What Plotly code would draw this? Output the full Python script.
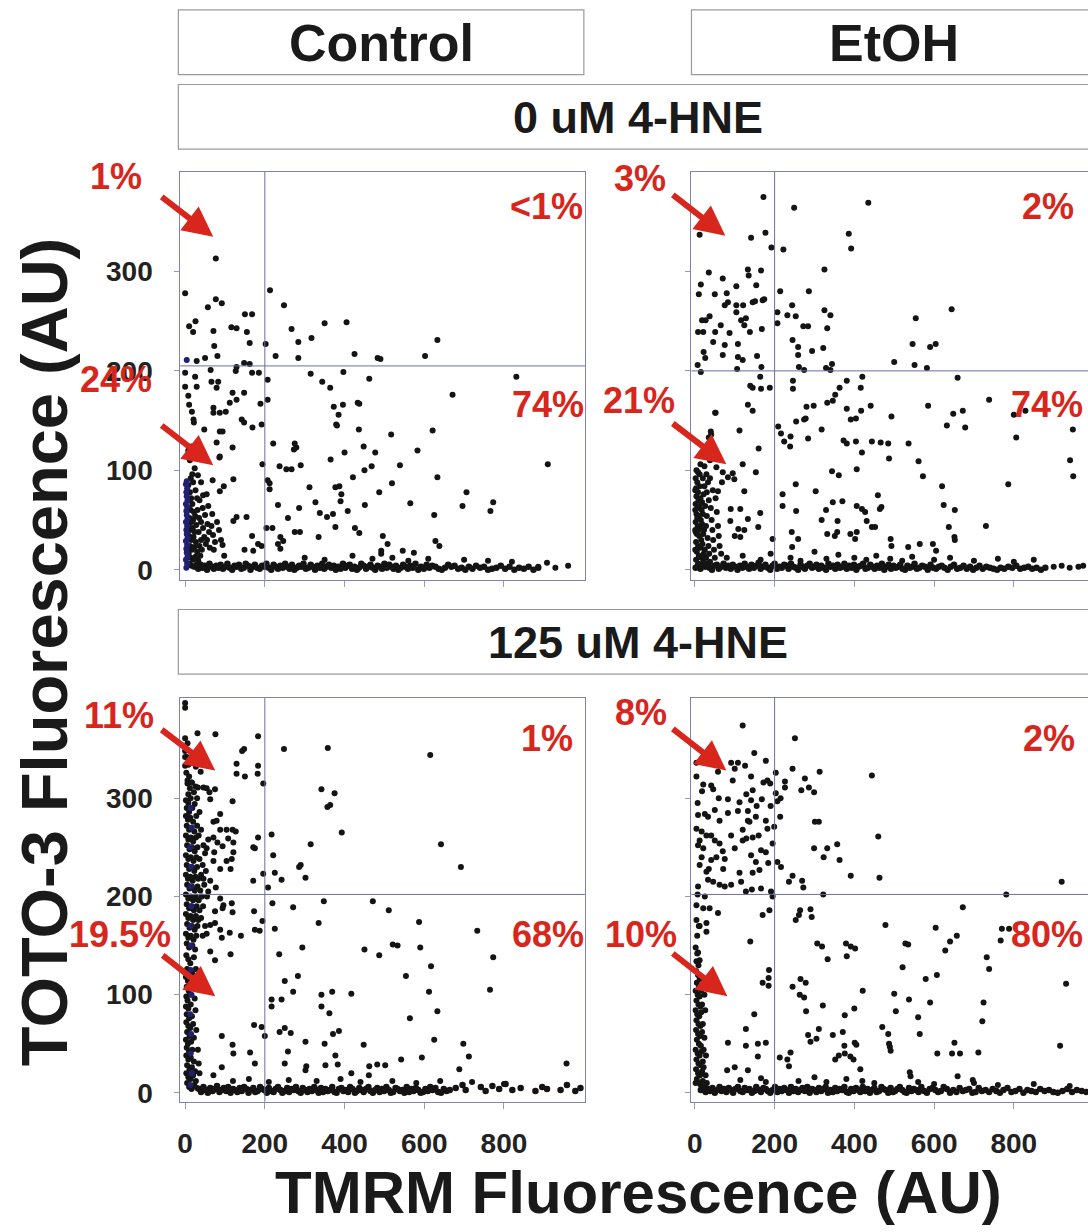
import plotly.graph_objects as go

W, H = 1088, 1232

# ---------------- data ----------------
COLUMNS = ["Control", "EtOH"]
ROWS = ["0 uM 4-HNE", "125 uM 4-HNE"]
X_TICKS = [0, 200, 400, 600, 800]
Y_TICKS = [0, 100, 200, 300]
QUAD_X = [200, 200, 200, 200]
QUAD_Y = [205, 200, 202, 202]
PCT_TEXT = [["1%", "<1%", "24%", "74%"],
            ["3%", "2%", "21%", "74%"],
            ["11%", "1%", "19.5%", "68%"],
            ["8%", "2%", "10%", "80%"]]

P1_PTS = [(77,313),(0,278),(213,281),(57,264),(77,272),(92,268),(248,266),(10,245),(26,250),(20,239),(71,240),(116,244),(129,243),(150,257),(168,257),(155,239),(73,225),(162,228),(267,242),(350,248),(405,249),(202,227),(284,229),(317,233),(633,231),(425,217),(483,213),(490,212),(602,215),(227,215),(284,213),(50,213),(29,210),(81,215),(129,204),(148,208),(162,207),(64,201),(127,200),(0,198),(25,194),(66,189),(83,189),(79,183),(168,198),(185,198),(207,191),(315,197),(397,199),(344,189),(364,183),(462,192),(831,194),(671,176),(0,184),(29,184),(8,175),(10,166),(17,159),(21,151),(22,148),(119,178),(129,171),(148,178),(112,168),(102,159),(87,158),(71,158),(71,163),(189,167),(207,171),(373,164),(396,166),(385,156),(379,146),(381,145),(433,168),(437,167),(142,151),(148,148),(169,143),(192,146),(48,141),(87,139),(94,139),(79,128),(119,123),(436,141),(517,136),(621,140),(221,127),(275,127),(279,123),(273,121),(400,118),(448,124),(477,118),(583,120),(86,113),(87,114),(194,106),(237,104),(254,101),(267,101),(290,105),(365,111),(450,100),(468,104),(539,105),(910,106),(69,90),(121,91),(207,90),(212,87),(212,81),(421,93),(633,93),(519,87),(312,83),(377,83),(387,84),(392,76),(390,69),(487,78),(706,78),(97,84),(87,79),(54,76),(233,65),(286,62),(327,68),(338,57),(356,53),(371,56),(408,59),(377,43),(451,65),(565,67),(696,64),(773,68),(766,59),(625,55),(258,52),(129,53),(154,53),(121,49),(204,42),(219,42),(192,24),(168,34),(239,33),(246,29),(233,26),(239,21),(275,38),(288,38),(335,33),(426,42),(437,37),(496,34),(508,26),(492,19),(492,16),(546,19),(574,17),(628,29),(638,24),(94,25),(98,14),(149,20),(171,19),(183,26),(908,7),(929,2),(961,4),(886,3),(300,12),(350,10),(420,14),(470,11),(520,12),(560,9),(610,11),(700,10),(760,9),(820,8)]
P1_CLUSTER = [(8,85),(12,78),(10,70),(15,72),(9,62),(14,60),(18,66),(22,58),(11,52),(16,48),(20,50),(25,54),(9,44),(13,40),(19,42),(24,38),(28,45),(10,34),(15,30),(21,33),(27,28),(12,24),(17,20),(23,23),(30,18),(9,16),(14,12),(20,10),(26,13),(33,9),(11,6),(16,4),(22,3),(28,5),(36,24),(40,30),(34,38),(42,20),(38,14),(45,42),(48,33),(52,26),(31,60),(35,52),(40,48),(44,62),(50,55),(56,46),(60,38),(55,30),(62,22),(58,64),(66,44),(70,35),(75,28),(68,56),(80,48),(85,40),(72,20),(90,30),(30,72),(26,80),(20,88),(36,70),(45,75),(14,92),(18,96),(24,102),(12,110),(28,115),(32,95),(40,88),(8,120),(16,124)]
P1_NAVY = [(3,2),(5,6),(2,10),(6,13),(4,17),(3,21),(5,25),(2,29),(6,32),(4,36),(3,40),(5,44),(2,48),(6,51),(4,55),(3,59),(5,63),(2,66),(6,70),(4,74),(3,78),(5,82),(2,86),(4,89),(4,211)]
P1_BAND_X = [28,33,39,44,50,55,61,67,72,78,84,89,95,101,106,112,118,124,129,135,141,147,152,158,164,170,175,181,187,193,199,204,210,216,222,228,233,239,245,251,257,262,268,274,280,286,291,297,303,309,315,320,326,332,338,344,349,355,361,367,373,378,384,390,396,402,407,413,419,425,431,436,442,448,454,460,465,471,477,483,489,494,500,506,512,518,523,529,535,541,547,553,559,565,571,578,585,592,599,606,613,620,628,636,644,652,660,668,676,685,694,703,712,721,730,740,750,760,770,781,792,803,814,826,838,850,862,874,886]
P1_BAND_Y = [3,1,5,2,4,0,6,3,1,4,2,5,1,3,6,2,0,4,3,5,1,2,6,4,0,3,5,2,1,4,3,6,2,0,5,3,1,4,2,6,3,1,5,0,2,4,3,6,1,2,5,3,0,4,2,6,1,3,5,2,4,0,3,1,6,2,4,5,1,3,0,2,6,4,1,3,5,2,0,4,3,1,6,2,5,3,1,4,0,2,5,3,1,4,2,6,0,3,1,5,2,4,3,1,0,2,5,3,4,1,2,0,3,1,4,2,3,0,1,2,4,1,3,0,2,1,3,0,2]

P2_PTS = [(172,375),(435,369),(249,364),(12,337),(141,334),(177,339),(192,324),(222,322),(386,338),(392,323),(35,299),(133,302),(135,296),(166,301),(325,302),(15,287),(10,277),(70,293),(50,277),(80,278),(104,285),(154,286),(214,280),(286,280),(75,266),(83,269),(104,266),(121,266),(145,269),(151,270),(170,271),(174,272),(207,259),(232,256),(244,266),(253,255),(325,261),(340,256),(644,262),(554,253),(18,251),(27,251),(37,255),(104,259),(116,251),(128,253),(124,246),(207,248),(272,245),(284,245),(332,243),(8,239),(21,239),(51,239),(65,246),(87,238),(138,239),(168,242),(46,229),(75,226),(108,227),(245,231),(259,224),(294,220),(322,223),(546,227),(590,224),(604,227),(22,219),(26,213),(7,206),(15,199),(70,216),(108,214),(120,211),(156,215),(167,204),(106,202),(259,216),(261,204),(274,201),(329,203),(344,207),(340,201),(500,209),(551,206),(582,203),(164,194),(139,185),(145,183),(166,182),(188,183),(246,190),(246,182),(381,190),(363,183),(352,176),(332,168),(346,170),(420,194),(416,183),(659,193),(738,171),(800,156),(829,160),(133,166),(145,160),(52,158),(280,164),(298,165),(254,149),(274,151),(278,152),(381,162),(391,151),(404,152),(417,160),(441,165),(493,154),(585,165),(648,157),(672,160),(678,143),(632,145),(806,133),(948,141),(941,110),(949,94),(786,86),(112,140),(40,139),(41,136),(35,133),(209,144),(216,137),(224,129),(239,124),(240,134),(284,132),(318,141),(373,130),(381,127),(404,129),(419,118),(444,129),(466,128),(485,127),(487,112),(536,127),(561,109),(572,94),(160,122),(51,158),(54,103),(70,98),(83,93),(95,97),(99,91),(120,106),(153,98),(344,99),(361,95),(406,101),(253,86),(303,79),(459,75),(620,84),(624,65),(652,60),(637,43),(651,33),(652,30),(730,44),(329,60),(346,68),(370,69),(358,49),(357,38),(351,34),(332,36),(318,50),(406,64),(419,61),(427,58),(431,49),(444,43),(452,43),(464,61),(468,63),(406,38),(254,59),(243,38),(259,31),(244,23),(220,76),(220,64),(164,57),(159,43),(195,31),(390,36),(402,31),(491,31),(493,24),(535,23),(564,26),(597,26),(605,19),(133,51),(124,40),(109,41),(114,33),(124,79),(114,61),(90,61),(89,49),(100,34),(68,88),(58,79),(80,12),(120,14),(165,10),(190,16),(240,12),(265,9),(300,18),(330,11),(360,15),(400,12),(430,10),(455,14),(490,11),(520,9),(545,13),(600,10),(640,12),(700,9),(760,11),(800,8),(850,10),(900,3),(920,4),(940,2),(962,3),(974,4)]
P2_CLUSTER = [(2,92),(6,88),(3,82),(8,78),(12,84),(4,74),(9,70),(14,72),(2,66),(7,62),(12,64),(17,60),(4,56),(10,54),(15,50),(20,56),(2,48),(7,44),(13,42),(18,46),(23,40),(5,36),(11,34),(16,30),(21,36),(3,28),(8,24),(14,22),(19,26),(25,20),(5,18),(10,14),(16,12),(22,16),(28,12),(3,10),(9,6),(15,4),(21,8),(27,5),(2,38),(6,52),(10,40),(18,68),(22,76),(26,64),(30,54),(28,44),(32,32),(34,24),(36,16),(38,8),(24,84),(30,78),(35,70),(40,62),(42,50),(44,40),(46,30),(48,20),(50,12),(33,88),(38,92),(45,80),(52,72),(55,58),(58,44),(60,34),(62,24),(66,16),(29,96),(12,96),(20,92),(8,98),(18,4),(30,4),(36,3),(1,20),(1,40),(1,60),(1,80),(4,100),(14,106),(24,104),(38,110),(43,116),(34,124),(30,118)]
P2_BAND_X = [2,8,14,20,26,31,37,43,49,55,60,66,72,78,84,90,95,101,107,113,119,125,130,136,142,148,154,160,165,171,177,183,189,195,200,206,212,218,224,230,235,241,247,253,259,265,270,276,282,288,294,300,305,311,317,323,329,335,340,346,352,358,364,370,375,381,387,393,399,405,410,416,422,428,434,440,445,451,457,463,469,475,480,486,492,498,504,510,515,521,527,533,539,545,551,557,563,570,577,584,591,598,605,612,619,626,634,642,650,658,666,674,682,690,698,706,714,722,731,740,749,758,767,776,786,796,806,816,826,836,846,857,868,879]
P2_BAND_Y = [2,5,1,4,3,6,2,0,4,5,1,3,6,2,4,1,5,3,0,4,2,6,3,1,5,2,4,7,1,3,5,2,0,4,6,1,3,2,5,4,1,6,3,2,0,5,3,1,4,6,2,3,5,1,4,2,0,6,3,4,1,5,2,3,6,1,4,2,5,0,3,4,6,1,2,5,3,1,4,2,6,0,3,5,1,4,2,3,5,1,0,4,2,3,6,1,2,4,3,0,5,2,1,3,4,2,0,3,5,1,2,4,1,3,0,2,4,1,3,2,1,0,2,1,3,2,4,1,2,3,1,2,0,2,1,3]

P3_PTS = [(0,397),(0,392),(31,366),(76,365),(0,361),(0,348),(0,342),(0,333),(183,363),(248,350),(358,351),(615,344),(143,348),(148,350),(129,335),(129,325),(150,322),(183,333),(182,325),(196,315),(27,332),(39,327),(6,315),(17,316),(8,304),(32,311),(46,311),(54,310),(61,306),(75,309),(63,299),(119,297),(88,284),(71,276),(79,277),(342,309),(375,305),(357,291),(364,293),(393,265),(642,253),(692,230),(315,253),(217,263),(183,260),(221,242),(225,224),(242,217),(290,232),(286,230),(302,219),(171,250),(175,249),(171,216),(196,223),(208,209),(88,268),(104,268),(119,268),(127,266),(58,258),(71,260),(81,255),(94,251),(108,259),(121,255),(121,245),(104,236),(117,238),(114,228),(71,236),(88,228),(73,245),(54,249),(46,218),(63,216),(58,205),(77,209),(88,198),(96,191),(117,193),(119,184),(94,188),(75,185),(63,171),(54,162),(88,166),(92,158),(112,163),(140,160),(75,173),(173,185),(175,166),(187,165),(194,175),(219,193),(225,167),(271,189),(348,195),(335,173),(471,195),(511,186),(587,174),(590,148),(733,165),(773,138),(450,146),(487,140),(521,151),(533,150),(294,148),(236,141),(63,144),(75,135),(114,141),(617,129),(554,119),(283,119),(250,114),(271,103),(342,100),(369,103),(417,101),(612,103),(765,105),(217,95),(217,88),(242,95),(342,88),(362,81),(633,83),(564,76),(173,69),(192,67),(200,58),(237,62),(250,66),(265,61),(371,60),(386,63),(302,52),(350,50),(448,49),(377,38),(625,54),(698,50),(712,37),(688,24),(594,36),(542,34),(258,42),(250,30),(304,27),(302,23),(352,28),(383,29),(417,20),(462,27),(482,29),(502,28),(461,18),(957,30),(92,58),(119,49),(121,40),(163,41),(175,30),(92,26),(71,18),(120,12),(160,14),(210,11),(260,13),(330,12),(390,14),(440,11),(520,12),(580,10),(640,12),(720,11),(800,9)]
P3_CLUSTER = [(2,298),(8,295),(14,300),(4,290),(10,286),(18,290),(24,294),(2,282),(7,278),(13,280),(20,276),(28,282),(4,272),(10,268),(16,270),(23,266),(30,272),(2,262),(8,258),(14,260),(20,256),(27,260),(34,262),(5,252),(11,248),(17,250),(24,246),(31,250),(2,242),(8,238),(14,240),(21,236),(28,240),(36,238),(4,232),(10,228),(17,230),(23,226),(30,230),(2,222),(7,218),(13,220),(19,216),(26,220),(33,218),(40,222),(5,212),(11,208),(17,210),(24,206),(31,210),(38,206),(2,202),(8,198),(14,200),(20,196),(27,200),(34,196),(42,200),(4,192),(10,188),(16,190),(22,186),(29,190),(36,186),(2,182),(8,178),(14,180),(20,176),(27,180),(33,176),(5,172),(11,168),(17,170),(24,166),(31,170),(2,162),(8,158),(14,160),(21,156),(28,160),(4,152),(10,148),(18,150),(25,146),(40,178),(45,190),(48,212),(44,232),(46,252),(40,268),(36,286),(30,300),(22,306),(12,310),(6,318),(3,326),(8,334),(4,342),(2,350),(6,356),(10,322),(16,316),(26,312),(50,244),(52,226),(55,200),(50,170),(44,160),(3,140),(8,136),(13,132),(5,126),(10,122),(2,118),(7,114),(15,112),(4,108),(9,104),(3,98),(12,100),(6,94),(2,88),(8,86),(14,90),(4,80),(10,76),(17,78),(3,72),(8,68),(13,66),(20,70),(5,62),(11,58),(2,54),(7,50),(15,52),(22,56),(4,46),(10,42),(18,44),(3,38),(8,34),(14,36),(22,32),(5,28),(11,24),(17,26),(25,22),(3,20),(8,16),(14,14),(20,18),(27,12),(5,10),(10,6),(16,4),(23,8),(30,5),(19,110),(24,96),(26,84),(28,64),(32,44),(34,30),(36,20),(18,122),(22,138),(27,126)]
P3_NAVY = [(14,290),(16,270),(13,250),(15,230),(14,210),(16,190),(13,170),(15,150),(14,125),(16,100),(13,80),(15,60),(14,40),(16,20),(13,8)]
P3_BAND_X = [35,40,46,52,57,63,69,74,80,86,91,97,103,108,114,120,125,131,137,142,148,154,159,165,171,176,182,188,193,199,205,210,216,222,227,233,239,244,250,256,261,267,273,278,284,290,295,301,307,312,318,324,329,335,341,346,352,358,363,369,375,380,386,392,397,403,409,414,420,426,431,437,443,448,454,460,465,471,477,482,488,494,499,505,511,516,522,528,533,539,545,550,556,562,567,573,579,585,591,597,603,609,615,621,628,635,642,649,656,664,679,696,704,742,754,771,788,804,821,842,879,896,908,942,958,979,992]
P3_BAND_Y = [4,1,6,3,0,5,2,4,7,1,3,5,2,6,0,4,3,1,5,2,6,4,0,3,5,1,2,6,4,3,0,5,2,1,4,6,3,0,2,5,1,4,3,6,2,0,5,3,1,4,2,6,3,0,5,1,4,2,3,6,1,0,4,5,2,3,1,6,4,0,2,5,3,1,4,6,2,0,3,5,1,4,2,6,3,0,1,5,4,2,3,0,6,1,4,2,5,3,0,1,4,2,6,3,5,1,0,4,2,3,5,8,3,6,2,7,4,9,3,5,2,6,4,3,8,2,5]

P4_PTS = [(120,374),(251,361),(149,346),(178,338),(4,336),(91,336),(108,336),(126,333),(4,322),(21,314),(41,313),(46,309),(18,307),(141,322),(172,316),(182,318),(189,315),(203,326),(226,317),(226,311),(276,320),(267,308),(286,311),(299,306),(313,327),(444,323),(83,299),(112,296),(129,304),(145,308),(141,298),(168,299),(203,305),(207,297),(7,295),(8,283),(25,284),(50,288),(33,281),(62,277),(83,285),(108,287),(133,287),(133,277),(137,276),(153,281),(178,277),(182,269),(199,271),(214,281),(301,276),(311,276),(460,261),(4,269),(17,266),(29,262),(12,257),(8,252),(21,249),(41,262),(50,257),(62,254),(54,240),(41,237),(71,228),(75,238),(91,262),(100,249),(120,257),(129,259),(145,260),(141,242),(153,235),(166,247),(178,245),(184,234),(195,254),(207,235),(216,230),(145,224),(162,227),(112,224),(116,215),(91,212),(75,210),(62,212),(46,215),(33,217),(29,225),(12,232),(17,240),(8,210),(7,202),(25,200),(128,205),(143,207),(166,208),(191,205),(195,200),(299,249),(323,240),(332,249),(357,253),(363,237),(391,221),(463,219),(236,215),(245,221),(269,216),(272,209),(322,202),(781,202),(920,215),(4,191),(21,188),(37,188),(58,183),(29,173),(12,170),(29,164),(170,181),(187,186),(139,154),(253,176),(261,181),(264,186),(290,187),(293,179),(672,189),(478,171),(604,168),(307,152),(319,149),(333,136),(379,152),(391,149),(402,147),(381,139),(528,152),(535,151),(628,145),(640,154),(657,160),(770,167),(788,167),(767,155),(732,138),(738,126),(521,128),(579,116),(607,120),(931,111),(8,143),(12,135),(170,112),(185,117),(185,109),(186,125),(245,108),(265,116),(278,112),(263,100),(274,97),(279,83),(321,89),(421,104),(400,86),(376,79),(500,101),(504,83),(537,95),(590,92),(560,77),(564,60),(724,92),(721,73),(916,48),(149,80),(128,65),(83,51),(128,48),(158,50),(178,51),(158,37),(100,26),(81,23),(133,23),(114,13),(166,15),(178,11),(213,36),(232,34),(240,41),(236,27),(284,59),(290,52),(305,55),(311,65),(346,59),(371,62),(375,48),(376,40),(401,51),(405,49),(470,67),(485,60),(489,47),(491,43),(487,50),(352,34),(361,38),(390,37),(398,34),(415,24),(608,40),(645,40),(651,51),(665,40),(711,41),(659,17),(697,13),(539,21),(541,17),(60,300),(95,318),(155,292),(120,268),(70,246),(35,228),(160,262),(190,292),(58,327),(100,330),(215,300),(245,330),(260,12),(300,16),(330,11),(380,14),(420,12),(450,10),(560,11),(600,9),(700,10),(760,8),(850,9),(940,7)]
P4_CLUSTER = [(2,148),(6,142),(4,134),(9,130),(3,124),(8,120),(12,116),(5,112),(10,108),(2,104),(7,100),(12,98),(4,94),(9,90),(14,88),(2,84),(6,80),(11,78),(16,82),(4,74),(9,70),(14,68),(3,64),(8,60),(13,58),(18,62),(5,54),(10,50),(15,48),(2,44),(7,40),(12,38),(17,42),(4,34),(9,30),(14,28),(20,32),(3,24),(8,20),(13,18),(18,22),(5,14),(10,10),(15,8),(20,12),(25,6),(2,10),(22,44),(24,56),(20,70),(18,90),(16,104),(22,26),(27,18),(30,10),(6,160),(10,170),(4,176),(28,38),(26,84),(24,100)]
P4_BAND_X = [15,21,27,33,38,44,50,56,62,67,73,79,85,91,96,102,108,114,120,125,131,137,143,149,154,160,166,172,178,183,189,195,201,207,212,218,224,230,236,241,247,253,259,265,270,276,282,288,294,299,305,311,317,323,328,334,340,346,352,357,363,369,375,381,386,392,398,404,410,415,421,427,433,439,444,450,456,462,468,473,479,485,491,497,502,508,514,520,526,531,537,543,549,555,561,568,575,582,589,596,603,610,617,624,632,640,648,656,664,672,680,688,696,704,712,720,729,738,747,756,765,774,784,794,804,814,824,834,844,855,866,877,888,899,910,922,934,946,958,970,982]
P4_BAND_Y = [3,6,1,4,2,5,0,3,6,2,4,1,5,3,0,4,6,2,1,5,3,4,0,2,6,3,1,5,4,2,0,3,6,1,4,2,5,3,0,6,2,4,1,3,5,2,6,0,4,3,1,5,2,4,6,0,3,1,5,2,4,3,6,1,0,4,2,5,3,1,6,2,4,0,3,5,1,2,6,4,3,0,5,1,2,4,6,3,1,0,5,2,4,3,1,6,2,0,4,5,3,1,2,6,4,0,3,1,5,2,3,4,0,1,5,2,3,1,4,2,0,3,5,1,2,4,0,3,2,1,4,2,3,1,0,2,4,1,3,2,1,0]

PANELS = [
    dict(pts=P1_PTS, cluster=P1_CLUSTER, navy=P1_NAVY, bx=P1_BAND_X, by=P1_BAND_Y),
    dict(pts=P2_PTS, cluster=P2_CLUSTER, navy=[], bx=P2_BAND_X, by=P2_BAND_Y),
    dict(pts=P3_PTS, cluster=P3_CLUSTER, navy=P3_NAVY, bx=P3_BAND_X, by=P3_BAND_Y),
    dict(pts=P4_PTS, cluster=P4_CLUSTER, navy=[], bx=P4_BAND_X, by=P4_BAND_Y),
]

# ---------------- layout constants ----------------
FONT = "Liberation Sans, Arial, sans-serif"
RED = "#d8261c"
DOT = "#141414"
NAVY = "#202070"
FRAME = "#8282b0"
QLINE = "#6e6ea2"
STRIP = "#9a9a9a"

def px(x):
    return x / W

def py(y):
    return 1 - y / H

# panel pixel boxes: (left, right, top, bottom) and axis ranges
BOX = [(177, 583, 173, 583), (690, 1088, 173, 583), (177, 583, 702, 1108), (690, 1088, 702, 1108)]
XR = [[-12, 1003], [-8.5, 986], [-12, 1003], [-8.5, 986]]
YR = [[-10, 400], [-10, 400], [-9, 402], [-9, 402]]

fig = go.Figure()

for i, p in enumerate(PANELS):
    xa = "x" if i == 0 else f"x{i+1}"
    ya = "y" if i == 0 else f"y{i+1}"
    band = list(zip(p["bx"], p["by"]))
    fig.add_trace(go.Scatter(
        x=[a for a, b in band], y=[b for a, b in band], mode="markers",
        marker=dict(size=6.5, color=DOT, line=dict(width=0)),
        xaxis=xa, yaxis=ya, showlegend=False, hoverinfo="skip"))
    allpts = list(p["pts"]) + list(p["cluster"])
    fig.add_trace(go.Scatter(
        x=[a for a, b in allpts], y=[b for a, b in allpts], mode="markers",
        marker=dict(size=6, color=DOT, line=dict(width=0)),
        xaxis=xa, yaxis=ya, showlegend=False, hoverinfo="skip"))
    if p["navy"]:
        fig.add_trace(go.Scatter(
            x=[a for a, b in p["navy"]], y=[b for a, b in p["navy"]], mode="markers",
            marker=dict(size=6, color=NAVY, line=dict(width=0)),
            xaxis=xa, yaxis=ya, showlegend=False, hoverinfo="skip"))

layout = dict(
    width=W, height=H, margin=dict(l=0, r=0, t=0, b=0),
    paper_bgcolor="white", plot_bgcolor="white", showlegend=False,
    font=dict(family=FONT, color="#1c1c1c"),
)

tickfont = dict(family=FONT, size=28, color="#222222", weight="bold")
for i in range(4):
    l, r, t, b = BOX[i]
    kx = "xaxis" if i == 0 else f"xaxis{i+1}"
    ky = "yaxis" if i == 0 else f"yaxis{i+1}"
    ya = "y" if i == 0 else f"y{i+1}"
    xa = "x" if i == 0 else f"x{i+1}"
    right_col = i in (1, 3)
    bottom_row = i in (2, 3)
    layout[kx] = dict(
        domain=[px(l), min(1.0, px(r))], range=XR[i], anchor=ya,
        tickvals=X_TICKS, showticklabels=bottom_row, ticks="outside", ticklen=6,
        tickcolor="#9a9aaa", tickwidth=1, tickfont=tickfont, ticklabelstandoff=11,
        showline=True, linecolor=FRAME, linewidth=1, mirror=True,
        showgrid=False, zeroline=False, fixedrange=True)
    layout[ky] = dict(
        domain=[py(b), py(t)], range=YR[i], anchor=xa,
        tickvals=Y_TICKS, showticklabels=not right_col, ticks="outside", ticklen=5,
        tickcolor="#9a9aaa", tickwidth=1, tickfont=tickfont, ticklabelstandoff=16,
        showline=True, linecolor=FRAME, linewidth=1, mirror=(not right_col),
        showgrid=False, zeroline=False, fixedrange=True)

shapes = []
annotations = []

# quadrant lines
for i in range(4):
    xa = "x" if i == 0 else f"x{i+1}"
    ya = "y" if i == 0 else f"y{i+1}"
    shapes.append(dict(type="line", xref=xa, yref=f"{ya} domain", x0=QUAD_X[i], x1=QUAD_X[i], y0=0, y1=1,
                       line=dict(color=QLINE, width=1)))
    shapes.append(dict(type="line", xref=f"{xa} domain", yref=ya, x0=0, x1=1, y0=QUAD_Y[i], y1=QUAD_Y[i],
                       line=dict(color=QLINE, width=1)))

# strip boxes
STRIPS = [((175, 582, 10, 75), COLUMNS[0], 52),
          ((690, 1097, 10, 75), COLUMNS[1], 52),
          ((175, 1097, 85, 150), ROWS[0], 45),
          ((175, 1097, 613, 678), ROWS[1], 45)]
for (l, r, t, b), txt, fs in STRIPS:
    shapes.append(dict(type="rect", xref="paper", yref="paper", x0=px(l), x1=px(r), y0=py(b), y1=py(t),
                       line=dict(color=STRIP, width=1.2), fillcolor="rgba(0,0,0,0)"))
    annotations.append(dict(xref="paper", yref="paper", x=px((l + r) / 2), y=py((t + b) / 2 + 1),
                            text=txt, showarrow=False, xanchor="center", yanchor="middle",
                            font=dict(family=FONT, size=fs, color="#1a1a1a", weight="bold")))

# percentage labels
PCT_POS = [[(112, 178), (545, 208), (112, 382), (546, 407)],
           [(638, 180), (1048, 208), (637, 403), (1047, 407)],
           [(115, 720), (545, 743), (116, 940), (546, 940)],
           [(639, 717), (1049, 743), (639, 940), (1047, 940)]]
for i in range(4):
    for txt, (cx, cy) in zip(PCT_TEXT[i], PCT_POS[i]):
        annotations.append(dict(xref="paper", yref="paper", x=px(cx), y=py(cy), text=txt, showarrow=False,
                                xanchor="center", yanchor="middle",
                                font=dict(family=FONT, size=36, color=RED, weight="bold")))

# arrows (tail -> tip, pixel positions)
ARROWS = [((157, 197), (210, 238)), ((157, 427), (210, 468)),
          ((670, 195), (724, 237)), ((670, 425), (725, 467)),
          ((157, 733), (212, 775)), ((158, 960), (212, 1002)),
          ((670, 732), (725, 775)), ((670, 958), (726, 1002))]
for (tx, ty), (hx, hy) in ARROWS:
    annotations.append(dict(xref="paper", yref="paper", x=px(hx), y=py(hy), ax=tx - hx, ay=ty - hy,
                            axref="pixel", ayref="pixel", text="", showarrow=True,
                            arrowhead=2, arrowsize=1.0, arrowwidth=6, arrowcolor=RED, standoff=0))

# axis titles
annotations.append(dict(xref="paper", yref="paper", x=px(637), y=py(1199), text="TMRM Fluorescence (AU)",
                        showarrow=False, xanchor="center", yanchor="middle",
                        font=dict(family=FONT, size=60, color="#1a1a1a", weight="bold")))
annotations.append(dict(xref="paper", yref="paper", x=px(40), y=py(656), text="TOTO-3 Fluorescence (AU)",
                        showarrow=False, xanchor="center", yanchor="middle", textangle=-90,
                        font=dict(family=FONT, size=65, color="#1a1a1a", weight="bold")))

layout["shapes"] = shapes
layout["annotations"] = annotations
fig.update_layout(**layout)

fig.write_html("out.html", config={"staticPlot": True},
               post_script="document.body.style.margin='0';document.body.style.overflow='hidden';")
